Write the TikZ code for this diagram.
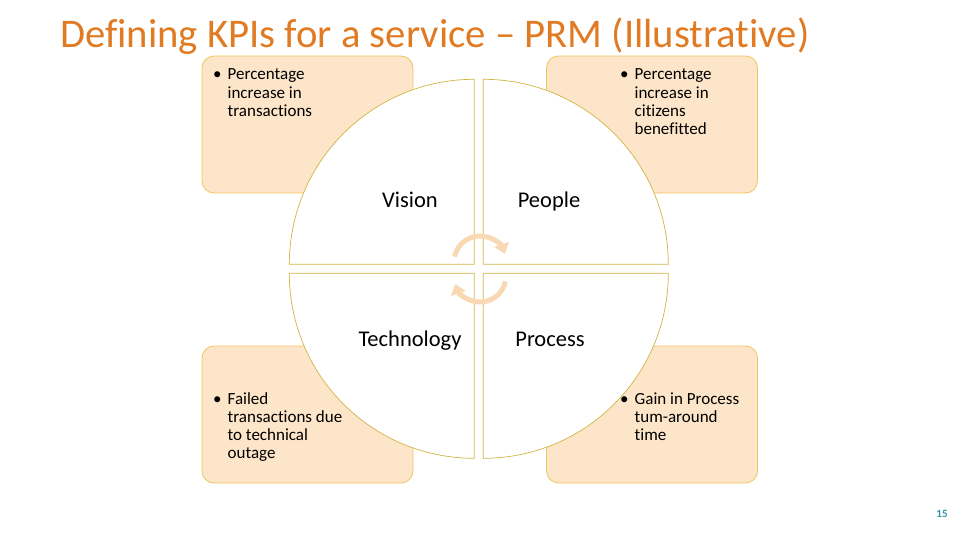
\documentclass[tikz,border=0pt]{standalone}
\usepackage{fontspec}
\setmainfont{Carlito}[Ligatures={NoCommon}]
\usetikzlibrary{arrows.meta}
\definecolor{titleorange}{HTML}{E07B24}
\definecolor{boxfill}{HTML}{FCE5C8}
\definecolor{boxline}{HTML}{F0C660}
\definecolor{secline}{HTML}{D2B445}
\definecolor{cycfill}{HTML}{F9D9B3}
\definecolor{pagecol}{HTML}{2F95A3}
\begin{document}
\begin{tikzpicture}[x=1pt, y=-1pt,
  kpibox/.style={draw=boxline, fill=boxfill, line width=0.8pt, rounded corners=12pt,
    minimum width=211pt, minimum height=137pt},
  sector/.style={draw=secline, fill=white, line width=0.7pt},
  kpitext/.style={font=\fontsize{17}{18.3}\selectfont, align=left, anchor=base west, inner sep=0pt},
  quad/.style={font=\fontsize{22.5}{26}\selectfont, anchor=base},
  cyc/.style={draw=cycfill, line width=5pt, -{Triangle[length=10pt,width=15pt]}}]
\useasboundingbox (0,0) rectangle (960,540);

% title
\node[anchor=base west, inner sep=0pt, text=titleorange, font=\fontsize{40.7}{46}\selectfont] (title) at (60,48)
  {Defining KPIs for a service -- PRM (Illustrative)};

% KPI boxes
\node[kpibox] (boxV) at (307.5,124.5) {};
\node[kpibox] (boxP) at (652,124.5) {};
\node[kpibox] (boxT) at (307.5,414.5) {};
\node[kpibox] (boxR) at (652,414.5) {};

% quarters of the circle
\coordinate (cV) at (474.3,264.3);
\coordinate (cP) at (483.3,264.3);
\coordinate (cT) at (474.3,273.3);
\coordinate (cR) at (483.3,273.3);
\draw[sector] (cV) -- ++(0,-185) arc[start angle=270, end angle=180, radius=185] -- cycle;
\draw[sector] (cP) -- ++(0,-185) arc[start angle=270, end angle=360, radius=185] -- cycle;
\draw[sector] (cT) -- ++(0,185) arc[start angle=90, end angle=180, radius=185] -- cycle;
\draw[sector] (cR) -- ++(0,185) arc[start angle=90, end angle=0, radius=185] -- cycle;

% cycle arrows
\coordinate (cycA) at (480,262);
\coordinate (cycB) at (480,276);
\draw[cyc] ([shift={(-168:26)}]cycA) arc[start angle=-168, end angle=-18, radius=26];
\draw[cyc] ([shift={(12:26)}]cycB) arc[start angle=12, end angle=162, radius=26];

% quarter labels
\node[quad] (vision) at (410,207) {Vision};
\node[quad] (people) at (549,207) {People};
\node[quad] (techno) at (410,346) {Technology};
\node[quad] (process) at (550,346) {Process};

% KPI texts
\node[kpitext] (txtV) at (213,80) {\begin{tabular}[t]{@{}l@{\hskip 6pt}l@{}}
  \textbullet & Percentage\\ & increase in\\ & transactions\end{tabular}};
\node[kpitext] (txtP) at (620,80) {\begin{tabular}[t]{@{}l@{\hskip 6pt}l@{}}
  \textbullet & Percentage\\ & increase in\\ & citizens\\ & benefitted\end{tabular}};
\node[kpitext] (txtT) at (213,404) {\begin{tabular}[t]{@{}l@{\hskip 6pt}l@{}}
  \textbullet & Failed\\ & transactions due\\ & to technical\\ & outage\end{tabular}};
\node[kpitext] (txtR) at (620,404) {\begin{tabular}[t]{@{}l@{\hskip 6pt}l@{}}
  \textbullet & Gain in Process\\ & tum-around\\ & time\end{tabular}};

% page number
\node[text=pagecol, font=\fontsize{11}{13}\selectfont\bfseries] (pagenum) at (942,514) {15};
\end{tikzpicture}
\end{document}
